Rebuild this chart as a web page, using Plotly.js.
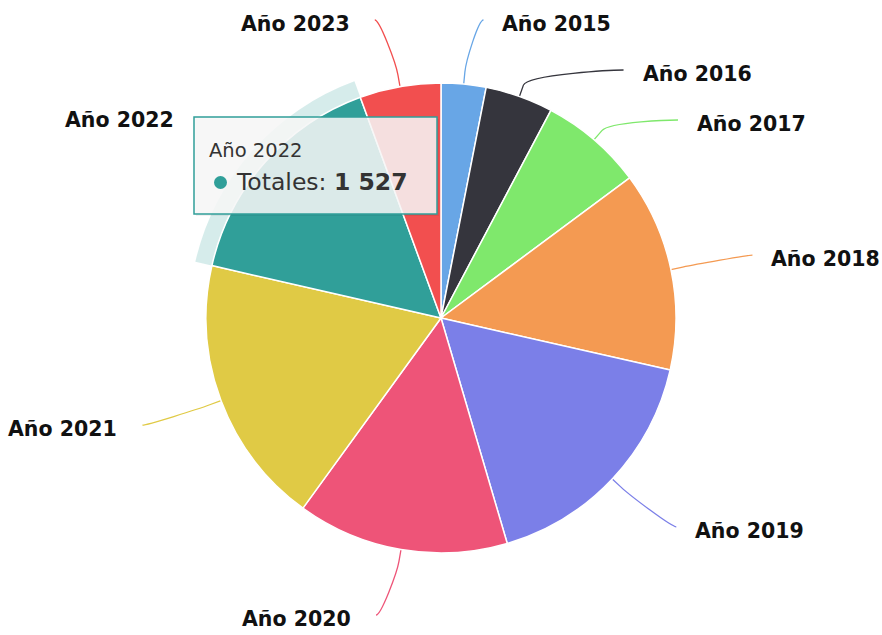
<!DOCTYPE html>
<html>
<head>
<meta charset="utf-8">
<script src="https://cdn.plot.ly/plotly-3.0.1.min.js"></script>
<style>html,body{margin:0;padding:0;background:#fff;}#chart{width:882px;height:635px;}</style>
</head>
<body>
<div id="chart"></div>
<script>
// ---- data ----
const categories = ['Año 2015','Año 2016','Año 2017','Año 2018','Año 2019','Año 2020','Año 2021','Año 2022','Año 2023'];
const totals     = [297, 450, 683, 1323, 1629, 1402, 1792, 1527, 538];
const seriesName = 'Totales';
const hoveredCategory = 'Año 2022';

// ---- styles ----
const colors = ['#68a6e6','#35353d','#7fe86c','#f49a52','#7b7fe8','#ee5478','#e0ca45','#309f99','#f24f4f'];
const W = 882, H = 635;
const cx = 441, cy = 318, R = 235;          // pie centre / radius in px
const haloSize = 17;
const labelR = 305, minGap = 50, topClamp = 20, bottomClamp = 615;
const connOff = 12, endShift = 8, textYOff = 4;
const gapRight = 22, gapLeft = 28;
const fontFam = '"DejaVu Sans", Verdana, sans-serif';

const px = x => x / W, py = y => 1 - y / H;
function domainFor(rad) {
  return { x: [px(cx - rad), px(cx + rad)], y: [py(cy + rad), py(cy - rad)] };
}

const hi = categories.indexOf(hoveredCategory);

// halo trace (drawn underneath)
const halo = {
  type: 'pie', labels: categories, values: totals, sort: false,
  direction: 'clockwise', rotation: 0, textinfo: 'none', hoverinfo: 'skip',
  domain: domainFor(R + haloSize),
  marker: { colors: categories.map((c, i) => i === hi ? 'rgba(48,159,153,0.2)' : 'rgba(0,0,0,0)'),
            line: { width: 0 } },
  showlegend: false
};
const pie = {
  type: 'pie', labels: categories, values: totals, sort: false,
  direction: 'clockwise', rotation: 0, textinfo: 'none',
  hoverinfo: 'label+value', name: seriesName,
  domain: domainFor(R),
  marker: { colors: colors, line: { color: '#ffffff', width: 1.5 } },
  showlegend: false
};

// ---- label placement (Highcharts-like), derived from the values ----
const total = totals.reduce((a, b) => a + b, 0);
let cum = 0;
const items = totals.map((v, i) => {
  const a0 = cum / total * 360; cum += v;
  const a1 = cum / total * 360;
  const mid = (a0 + a1) / 2 * Math.PI / 180;
  const right = Math.sin(mid) >= 0;
  return {
    i, mid, right,
    x: cx + labelR * Math.sin(mid) + (right ? endShift : -endShift),
    y: cy - labelR * Math.cos(mid)
  };
});
[true, false].forEach(side => {
  const grp = items.filter(o => o.right === side).sort((a, b) => a.y - b.y);
  let prev = -1e9;
  grp.forEach(o => {
    let y = Math.min(Math.max(o.y, topClamp), bottomClamp);
    if (y < prev + minGap) {
      y = prev + minGap;
      const dy = y - cy;
      const dx = Math.sqrt(Math.max(labelR * labelR - dy * dy, 0));
      o.x = cx + (side ? dx : -dx);
    }
    o.y = y; prev = y;
  });
});

const shapes = [];
const annotations = [];
items.forEach(o => {
  const sx = Math.sin(o.mid), sy = -Math.cos(o.mid);
  const A = [cx + R * sx, cy + R * sy];
  const B = [cx + (R + connOff) * sx, cy + (R + connOff) * sy];
  const C2 = [2 * B[0] - A[0], 2 * B[1] - A[1]];
  const S = [o.x + (o.right ? 5 : -5), o.y];
  if (o.i !== hi) {
    const path = `M ${px(S[0])} ${py(S[1])} C ${px(o.x)} ${py(o.y)} ${px(C2[0])} ${py(C2[1])} ${px(B[0])} ${py(B[1])} L ${px(A[0])} ${py(A[1])}`;
    shapes.push({ type: 'path', xref: 'paper', yref: 'paper', path: path,
                  line: { color: colors[o.i], width: 1.3 }, layer: 'below' });
  }
  annotations.push({
    xref: 'paper', yref: 'paper', showarrow: false,
    x: px(o.right ? o.x + gapRight : o.x - gapLeft), y: py(o.y + textYOff),
    xanchor: o.right ? 'left' : 'right', yanchor: 'middle',
    text: '<b>' + categories[o.i] + '</b>',
    font: { family: fontFam, size: 20.5, color: '#111' }
  });
});

// ---- tooltip (hover state of Año 2022) ----
const tip = { x0: 194, y0: 117, x1: 437, y1: 214 };
shapes.push({ type: 'rect', xref: 'paper', yref: 'paper',
  x0: px(tip.x0 + 2), x1: px(tip.x1 + 2), y0: py(tip.y0 + 2), y1: py(tip.y1 + 2),
  fillcolor: 'rgba(0,0,0,0.06)', line: { width: 0 } });
shapes.push({ type: 'rect', xref: 'paper', yref: 'paper',
  x0: px(tip.x0), x1: px(tip.x1), y0: py(tip.y0), y1: py(tip.y1),
  fillcolor: 'rgba(248,248,248,0.86)', line: { color: colors[hi], width: 1.5 } });
shapes.push({ type: 'circle', xref: 'paper', yref: 'paper',
  x0: px(214), x1: px(227), y0: py(176), y1: py(189),
  fillcolor: colors[hi], line: { width: 0 } });
annotations.push({ xref: 'paper', yref: 'paper', showarrow: false,
  x: px(207), y: py(150), xanchor: 'left', yanchor: 'middle',
  text: categories[hi], font: { family: fontFam, size: 19.5, color: '#333' } });
annotations.push({ xref: 'paper', yref: 'paper', showarrow: false,
  x: px(234), y: py(182), xanchor: 'left', yanchor: 'middle',
  text: seriesName + ': <b>' + totals[hi].toLocaleString('fr-FR').replace(/\s/g, ' ') + '</b>',
  font: { family: fontFam, size: 23.5, color: '#333' } });

const layout = {
  width: W, height: H, margin: { l: 0, r: 0, t: 0, b: 0 },
  paper_bgcolor: '#ffffff', plot_bgcolor: '#ffffff',
  showlegend: false, shapes: shapes, annotations: annotations,
  font: { family: fontFam }
};
Plotly.newPlot('chart', [halo, pie], layout, { staticPlot: true, displayModeBar: false });
</script>
</body>
</html>
